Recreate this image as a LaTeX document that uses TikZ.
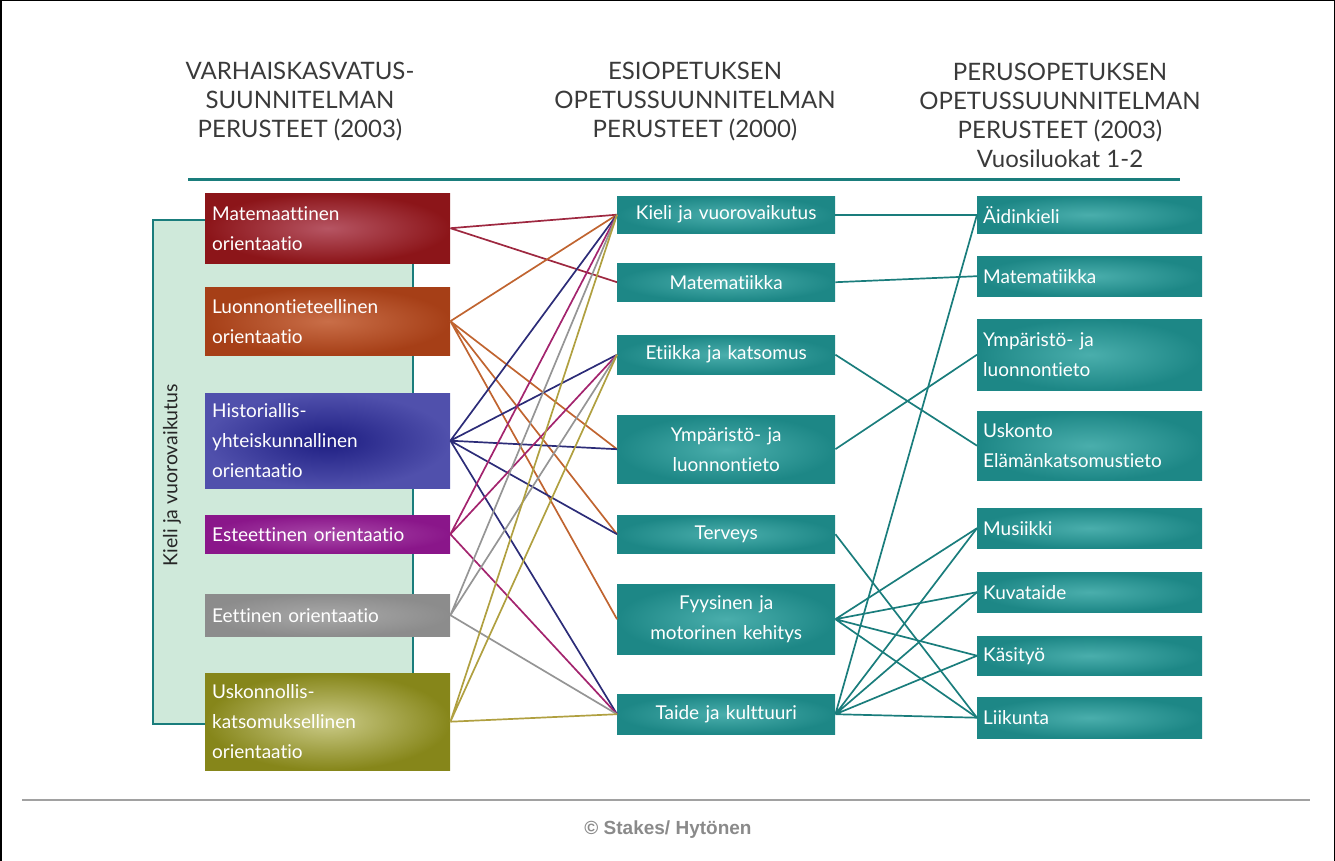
\documentclass[tikz,border=0pt]{standalone}
\usepackage{fontspec}
\setmainfont{Lato}[Ligatures=NoCommon]
\newfontfamily\footfont{Liberation Sans}

% colours of the boxes and lines
\definecolor{tealbox}{HTML}{1D8786}
\definecolor{teallight}{HTML}{4AAEAC}
\definecolor{tealline}{HTML}{1A7D7C}
\definecolor{panelgreen}{HTML}{CFE9DA}
\definecolor{headgray}{HTML}{3A3A3A}
\definecolor{footgray}{HTML}{8A8A8A}
\definecolor{matred}{HTML}{8C1519}
\definecolor{matredlight}{HTML}{B65563}
\definecolor{luoorange}{HTML}{A63F17}
\definecolor{luoorangelight}{HTML}{C96E48}
\definecolor{hisblue}{HTML}{5050AC}
\definecolor{hisbluedark}{HTML}{1E1E82}
\definecolor{estpurple}{HTML}{8A168A}
\definecolor{estpurplelight}{HTML}{A848A8}
\definecolor{eetgray}{HTML}{8C8C8C}
\definecolor{eetgraylight}{HTML}{A8A8A8}
\definecolor{uskolive}{HTML}{86861A}
\definecolor{uskolivelight}{HTML}{CBCB88}
\definecolor{matline}{HTML}{9E2840}
\definecolor{luoline}{HTML}{C06430}
\definecolor{hisline}{HTML}{2C2C78}
\definecolor{estline}{HTML}{A3246E}
\definecolor{eetline}{HTML}{959595}
\definecolor{uskline}{HTML}{B0A040}

\newcommand{\boxfont}{\fontsize{19}{30}\selectfont}
\newcommand{\headfont}{\fontsize{24}{29}\selectfont}

\tikzset{
  leftbox/.style={anchor=north west, minimum width=245, text width=231, inner xsep=7, inner ysep=0, text=white, font=\boxfont, align=left},
  midbox/.style={anchor=north west, minimum width=218, text width=210, inner xsep=4, inner ysep=0, text=white, font=\boxfont, align=center, inner color=teallight, outer color=tealbox},
  rightbox/.style={anchor=north west, minimum width=225, text width=213, inner xsep=6, inner ysep=0, text=white, font=\boxfont, align=left, inner color=teallight, outer color=tealbox},
  head/.style={font=\headfont, text=headgray, align=center},
  link/.style={line width=1.7pt}
}

\begin{document}
\begin{tikzpicture}[x=1pt, y=-1pt]
\useasboundingbox (0,0) rectangle (1335,861);

% Draw the frame
\draw[black, line width=1.5pt] (0.75,861) -- (0.75,0.75) -- (1334.25,0.75) -- (1334.25,861);

% Draw the headings
\node[head] (varhais) at (300,102) {VARHAISKASVATUS-\\SUUNNITELMAN\\PERUSTEET (2003)};
\node[head] (esiop) at (695,102) {ESIOPETUKSEN\\OPETUSSUUNNITELMAN\\PERUSTEET (2000)};
\node[head] (perusop) at (1060,115) {PERUSOPETUKSEN\\OPETUSSUUNNITELMAN\\PERUSTEET (2003)\\Vuosiluokat 1-2};
\draw[tealline, line width=3pt] (188,180) -- (1180,180);

% Draw the green panel behind the left column
\draw[tealline, line width=1.5pt, fill=panelgreen] (153,220) rectangle (413,724);
\node[rotate=90, font=\fontsize{19.5}{22}\selectfont, text=black!85] (kielipanel) at (172,475) {Kieli ja vuorovaikutus};

% Draw the left column
\node[leftbox, minimum height=70, inner color=matredlight, outer color=matred] (mat) at (205,193) {Matemaattinen\\orientaatio};
\node[leftbox, minimum height=68, inner color=luoorangelight, outer color=luoorange] (luo) at (205,287) {Luonnontieteellinen\\orientaatio};
\node[leftbox, minimum height=95, inner color=hisbluedark, outer color=hisblue] (his) at (205,393) {Historiallis-\\yhteiskunnallinen\\orientaatio};
\node[leftbox, minimum height=38, inner color=estpurplelight, outer color=estpurple] (est) at (205,515) {Esteettinen orientaatio};
\node[leftbox, minimum height=42, inner color=eetgraylight, outer color=eetgray] (eet) at (205,594) {Eettinen orientaatio};
\node[leftbox, minimum height=97, inner color=uskolivelight, outer color=uskolive] (usk) at (205,673) {Uskonnollis-\\katsomuksellinen\\orientaatio};

% Draw the middle column
\node[midbox, minimum height=37] (kieli) at (617,196) {Kieli ja vuorovaikutus};
\node[midbox, minimum height=38] (matm) at (617,263) {Matematiikka};
\node[midbox, minimum height=39] (etiikka) at (617,335) {Etiikka ja katsomus};
\node[midbox, minimum height=68] (ympm) at (617,415) {Ympäristö- ja\\luonnontieto};
\node[midbox, minimum height=38] (terveys) at (617,515) {Terveys};
\node[midbox, minimum height=70] (fyysinen) at (617,584) {Fyysinen ja\\motorinen kehitys};
\node[midbox, minimum height=40] (taide) at (617,694) {Taide ja kulttuuri};

% Draw the right column
\node[rightbox, minimum height=37] (aidinkieli) at (977,196) {Äidinkieli};
\node[rightbox, minimum height=40] (matr) at (977,256) {Matematiikka};
\node[rightbox, minimum height=71] (ympr) at (977,319) {Ympäristö- ja\\luonnontieto};
\node[rightbox, minimum height=69] (uskonto) at (977,411) {Uskonto\\Elämänkatsomustieto};
\node[rightbox, minimum height=40] (musiikki) at (977,508) {Musiikki};
\node[rightbox, minimum height=40] (kuvataide) at (977,572) {Kuvataide};
\node[rightbox, minimum height=39] (kasityo) at (977,636) {Käsityö};
\node[rightbox, minimum height=41] (liikunta) at (977,697) {Liikunta};

% Draw the links from the left column
\draw[link, matline] (mat.east) -- (kieli.west) (mat.east) -- (matm.west);
\draw[link, luoline] (luo.east) -- (kieli.west) (luo.east) -- (ympm.west) (luo.east) -- (terveys.west) (luo.east) -- (fyysinen.west);
\draw[link, hisline] (his.east) -- (kieli.west) (his.east) -- (etiikka.west) (his.east) -- (ympm.west) (his.east) -- (terveys.west) (his.east) -- (taide.west);
\draw[link, estline] (est.east) -- (kieli.west) (est.east) -- (etiikka.west) (est.east) -- (taide.west);
\draw[link, eetline] (eet.east) -- (kieli.west) (eet.east) -- (etiikka.west) (eet.east) -- (taide.west);
\draw[link, uskline] (usk.east) -- (kieli.west) (usk.east) -- (etiikka.west) (usk.east) -- (taide.west);

% Draw the links to the right column
\draw[link, tealline] (kieli.east) -- (aidinkieli.west);
\draw[link, tealline] (matm.east) -- (matr.west);
\draw[link, tealline] (etiikka.east) -- (uskonto.west);
\draw[link, tealline] (ympm.east) -- (ympr.west);
\draw[link, tealline] (terveys.east) -- (liikunta.west);
\draw[link, tealline] (fyysinen.east) -- (musiikki.west) (fyysinen.east) -- (kuvataide.west) (fyysinen.east) -- (kasityo.west) (fyysinen.east) -- (liikunta.west);
\draw[link, tealline] (taide.east) -- (aidinkieli.west) (taide.east) -- (musiikki.west) (taide.east) -- (kuvataide.west) (taide.east) -- (kasityo.west) (taide.east) -- (liikunta.west);

% Draw the footer
\draw[footgray!80, line width=2pt] (22,800) -- (1310,800);
\node[font=\footfont\bfseries\fontsize{19}{22}\selectfont, text=footgray] (stakes) at (668,830) {© Stakes/ Hytönen};
\end{tikzpicture}
\end{document}
